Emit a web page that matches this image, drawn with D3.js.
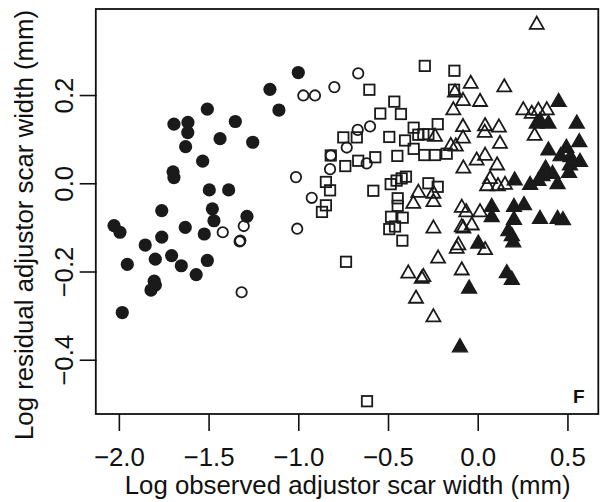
<!DOCTYPE html>
<html>
<head>
<meta charset="utf-8">
<script src="https://cdn.jsdelivr.net/npm/d3@7"></script>
<style>
  body { margin: 0; background: #fff; }
  svg { display: block; }
</style>
</head>
<body>
<div id="chart"></div>
<script>
// values: [log observed width, log residual width]
const filledCircles = [
  [-1.507, 0.168], [-1.693, 0.134], [-1.615, 0.138], [-1.616, 0.115], [-1.351, 0.140],
  [-1.436, 0.101], [-1.254, 0.093], [-1.628, 0.083], [-1.533, 0.050], [-1.698, 0.026],
  [-1.693, 0.013], [-1.496, -0.015], [-1.388, -0.015], [-1.761, -0.062], [-1.479, -0.058],
  [-1.286, -0.075], [-1.470, -0.085], [-2.027, -0.096], [-1.994, -0.111], [-1.630, -0.100],
  [-1.761, -0.122], [-1.524, -0.115], [-1.853, -0.140], [-1.706, -0.164], [-1.797, -0.172],
  [-1.953, -0.184], [-1.652, -0.187], [-1.507, -0.175], [-1.569, -0.207], [-1.803, -0.222],
  [-1.797, -0.231], [-1.821, -0.242], [-1.981, -0.293], [-1.000, 0.251], [-1.158, 0.213],
  [-1.108, 0.166]
];

const openCircles = [
  [-0.666, 0.249], [-0.799, 0.218], [-0.972, 0.199], [-0.907, 0.199], [-0.600, 0.129],
  [-0.669, 0.121], [-0.730, 0.081], [-0.819, 0.063], [-0.823, 0.032], [-0.619, 0.045],
  [-1.013, 0.014], [-0.925, -0.033], [-1.304, -0.097], [-1.327, -0.132], [-1.323, -0.130],
  [-1.421, -0.111], [-1.006, -0.103], [-1.316, -0.247]
];

const openSquares = [
  [-0.604, 0.212], [-0.465, 0.185], [-0.543, 0.158], [-0.428, 0.157], [-0.749, 0.104],
  [-0.674, 0.104], [-0.493, 0.105], [-0.405, 0.097], [-0.819, 0.063], [-0.738, 0.039],
  [-0.666, 0.051], [-0.571, 0.059], [-0.448, 0.062], [-0.846, 0.003], [-0.823, -0.016],
  [-0.582, -0.017], [-0.485, -0.002], [-0.452, 0.006], [-0.424, 0.011], [-0.400, 0.015],
  [-0.846, -0.050], [-0.868, -0.065], [-0.446, -0.034], [-0.446, -0.051], [-0.483, -0.076],
  [-0.418, -0.078], [-0.493, -0.104], [-0.461, -0.098], [-0.420, -0.130], [-0.734, -0.178],
  [-0.295, 0.266], [-0.130, 0.255], [-0.132, 0.212], [-0.223, 0.134], [-0.357, 0.126],
  [-0.331, 0.110], [-0.303, 0.111], [-0.275, 0.111], [-0.357, 0.078], [-0.298, 0.064],
  [-0.238, 0.064], [-0.173, 0.067], [-0.275, 0.000], [-0.223, -0.008], [-0.617, -0.494]
];

const openTriangles = [
  [0.329, 0.364], [-0.127, 0.210], [-0.039, 0.230], [0.148, 0.222], [-0.082, 0.191],
  [0.013, 0.189], [-0.136, 0.170], [0.254, 0.170], [0.301, 0.162], [0.338, 0.169],
  [0.385, 0.170], [0.317, 0.112], [-0.082, 0.132], [0.041, 0.134], [0.118, 0.131],
  [0.039, 0.119], [-0.082, 0.106], [0.124, 0.094], [-0.150, 0.089], [-0.122, 0.088],
  [-0.006, 0.056], [0.041, 0.067], [0.108, 0.045], [-0.080, 0.038], [-0.238, 0.110],
  [0.069, 0.014], [0.113, -0.002], [0.152, 0.001], [0.052, -0.002], [-0.331, -0.017],
  [-0.247, -0.019], [-0.359, -0.042], [-0.247, -0.038], [-0.089, -0.051], [-0.064, -0.061],
  [0.013, -0.061], [-0.033, -0.091], [-0.089, -0.095], [-0.080, -0.098], [-0.247, -0.098],
  [-0.221, -0.166], [-0.117, -0.144], [-0.108, -0.136], [0.041, -0.147], [-0.387, -0.200],
  [-0.312, -0.212], [-0.303, -0.208], [-0.089, -0.193], [-0.344, -0.257], [-0.247, -0.299]
];

const filledTriangles = [
  [0.451, 0.189], [0.347, 0.146], [0.394, 0.140], [0.329, 0.140], [0.552, 0.140],
  [0.566, 0.098], [0.394, 0.079], [0.494, 0.085], [0.462, 0.066], [0.517, 0.064],
  [0.570, 0.053], [0.378, 0.038], [0.361, 0.021], [0.417, 0.026], [0.509, 0.028],
  [0.514, 0.045], [0.445, 0.003], [0.338, 0.010], [0.206, 0.011], [0.292, 0.001],
  [0.078, -0.049], [0.078, -0.072], [0.202, -0.049], [0.258, -0.045], [0.202, -0.078],
  [0.347, -0.076], [0.445, -0.076], [0.475, -0.079], [0.171, -0.104], [0.190, -0.115],
  [0.198, -0.129], [0.003, -0.132], [0.162, -0.199], [0.190, -0.214], [-0.048, -0.234],
  [-0.099, -0.367]
];

const xTicks = [-2.0, -1.5, -1.0, -0.5, 0.0, 0.5];
const yTicks = [-0.4, -0.2, 0.0, 0.2];
const xLabel = "Log observed adjustor scar width (mm)";
const yLabel = "Log residual adjustor scar width (mm)";
const panelLetter = "F";

const width = 603, height = 502;
const marginLeft = 95, marginRight = 4.7, marginTop = 9, marginBottom = 88;
const font = "'Liberation Sans', Arial, Helvetica, sans-serif";

const svg = d3.select("#chart").append("svg")
    .attr("width", width)
    .attr("height", height)
    .attr("font-family", font);

const x = d3.scaleLinear()
    .domain([-2.133, 0.672])
    .range([marginLeft, width - marginRight]);

const y = d3.scaleLinear()
    .domain([-0.523, 0.395])
    .range([height - marginBottom, marginTop]);

const fmt = d3.format(".1f");

// x axis
const gx = svg.append("g")
    .attr("transform", `translate(0,${height - marginBottom})`)
    .call(d3.axisBottom(x).tickValues(xTicks).tickSize(17).tickSizeOuter(0).tickFormat(fmt));
gx.select(".domain").remove();
gx.selectAll(".tick line").attr("stroke", "#111").attr("stroke-width", 1.6);
gx.selectAll(".tick text")
    .attr("y", 52).attr("dy", null)
    .attr("font-size", 25.8).attr("fill", "#111");

// y axis, labels turned like R's default
const gy = svg.append("g")
    .attr("transform", `translate(${marginLeft + 1.7},0)`)
    .call(d3.axisLeft(y).tickValues(yTicks).tickSize(17).tickSizeOuter(0).tickFormat(fmt));
gy.select(".domain").remove();
gy.selectAll(".tick line").attr("stroke", "#111").attr("stroke-width", 1.6);
gy.selectAll(".tick text")
    .attr("x", null).attr("dy", null)
    .attr("text-anchor", "middle")
    .attr("transform", "translate(-24,0) rotate(-90)")
    .attr("font-size", 25.8).attr("fill", "#111");

// plot box
svg.append("rect")
    .attr("x", marginLeft + 0.8)
    .attr("y", marginTop)
    .attr("width", width - marginRight - marginLeft - 0.8)
    .attr("height", height - marginBottom - marginTop)
    .attr("fill", "none")
    .attr("stroke", "#111")
    .attr("stroke-width", 1.8);

// axis titles
svg.append("text")
    .attr("x", (marginLeft + width - marginRight) / 2 + 1)
    .attr("y", 494)
    .attr("text-anchor", "middle")
    .attr("font-size", 25.8)
    .attr("fill", "#111")
    .text(xLabel);

svg.append("text")
    .attr("transform", `translate(33,225) rotate(-90)`)
    .attr("text-anchor", "middle")
    .attr("font-size", 25.8)
    .attr("fill", "#111")
    .text(yLabel);

svg.append("text")
    .attr("x", 573)
    .attr("y", 403)
    .attr("font-size", 19)
    .attr("font-weight", "bold")
    .attr("fill", "#111")
    .text(panelLetter);

// points
const ink = "#1a1a1a";
const tri = (w, h) => `M0,${-h / 2}L${w / 2},${h / 2}L${-w / 2},${h / 2}Z`;

svg.append("g").selectAll("circle")
    .data(openCircles).join("circle")
    .attr("cx", d => x(d[0])).attr("cy", d => y(d[1]))
    .attr("r", 5.2)
    .attr("fill", "none").attr("stroke", ink).attr("stroke-width", 1.8);

svg.append("g").selectAll("rect")
    .data(openSquares).join("rect")
    .attr("x", d => x(d[0]) - 5.2).attr("y", d => y(d[1]) - 5.2)
    .attr("width", 10.4).attr("height", 10.4)
    .attr("fill", "none").attr("stroke", ink).attr("stroke-width", 1.8);

svg.append("g").selectAll("path")
    .data(openTriangles).join("path")
    .attr("transform", d => `translate(${x(d[0])},${y(d[1])})`)
    .attr("d", tri(14, 12.2))
    .attr("fill", "none").attr("stroke", ink).attr("stroke-width", 1.8)
    .attr("stroke-linejoin", "miter");

svg.append("g").selectAll("path")
    .data(filledTriangles).join("path")
    .attr("transform", d => `translate(${x(d[0])},${y(d[1])})`)
    .attr("d", tri(15.2, 13.2))
    .attr("fill", ink).attr("stroke", ink).attr("stroke-width", 1.2);

svg.append("g").selectAll("circle")
    .data(filledCircles).join("circle")
    .attr("cx", d => x(d[0])).attr("cy", d => y(d[1]))
    .attr("r", 6.6)
    .attr("fill", ink);
</script>
</body>
</html>
